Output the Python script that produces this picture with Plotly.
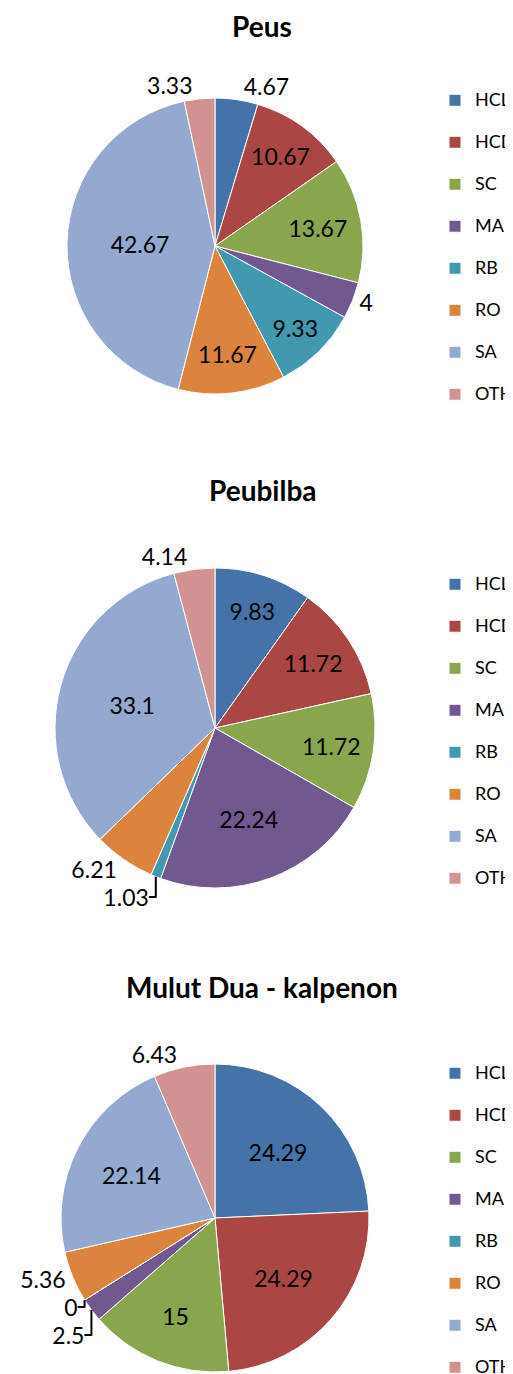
import plotly.graph_objects as go

# slice categories, same order in all three charts (clockwise from 12 o'clock)
CATEGORIES = ["HCL", "HCD", "SC", "MA", "RB", "RO", "SA", "OTH"]
COLORS = ["#4572A7", "#AA4643", "#89A54E", "#71588F",
          "#4198AF", "#DB843D", "#93A9CF", "#D19392"]

TITLES = ["Peus", "Peubilba", "Mulut Dua - kalpenon"]

PEUS = [4.67, 10.67, 13.67, 4, 9.33, 11.67, 42.67, 3.33]
PEUBILBA = [9.83, 11.72, 11.72, 22.24, 1.03, 6.21, 33.1, 4.14]
MULUT_DUA = [24.29, 24.29, 15, 2.5, 0, 5.36, 22.14, 6.43]

# small slices get their labels outside
POS_PEUS = ["outside", "inside", "inside", "outside", "inside", "inside", "inside", "outside"]
POS_PEUBILBA = ["inside", "inside", "inside", "inside", "outside", "outside", "inside", "outside"]
POS_MULUT = ["inside", "inside", "inside", "outside", "outside", "outside", "inside", "outside"]

# the page body keeps its default 8px margin, so the figure is drawn 8px
# smaller and all positions below are given in window pixels
PAGE_W, PAGE_H, OFFSET = 513, 1374, 8
W, H = PAGE_W - OFFSET, PAGE_H - OFFSET
FONT = "Lato, 'Open Sans', sans-serif"


def px_x(x):
    return (x - OFFSET) / W


def px_y(y):
    return 1 - (y - OFFSET) / H


# (center x, center y, radius) in window pixels
geometry = [(215, 246, 148), (215, 728, 160), (215, 1218, 154)]
series = [PEUS, PEUBILBA, MULUT_DUA]
positions = [POS_PEUS, POS_PEUBILBA, POS_MULUT]
legend_names = ["legend", "legend2", "legend3"]
legend_tops = [84, 568, 1057]
title_ys = [26, 490, 987]

fig = go.Figure()

for k, (vals, pos, (cx, cy, r), lg) in enumerate(zip(series, positions, geometry, legend_names)):
    # legend rows are taller than the text: a blank second line pads each entry
    # and reserves width for the larger first line; its length differs per
    # chart so each pie keeps its own legend entries
    pad = "&nbsp;" * (11 + k)
    labels = [f"<span style='font-size:18px'>{c}</span><br>{pad}" for c in CATEGORIES]
    fig.add_trace(go.Pie(
        labels=labels,
        values=vals,
        text=[str(v) for v in vals],
        textinfo="text",
        textposition=pos,
        insidetextorientation="horizontal",
        textfont=dict(family=FONT, size=23, color="black"),
        marker=dict(colors=COLORS, line=dict(color="white", width=1)),
        sort=False,
        direction="clockwise",
        rotation=0,
        hovertext=CATEGORIES,
        hoverinfo="text+value",
        legend=lg,
        domain=dict(
            x=[px_x(cx - r), px_x(cx + r)],
            y=[px_y(cy + r), px_y(cy - r)],
        ),
    ))

legend_style = dict(
    x=px_x(435), xanchor="left", yanchor="top",
    font=dict(family=FONT, size=15, color="black"),
    valign="top",
    bgcolor="rgba(0,0,0,0)",
)

fig.update_layout(
    width=W,
    height=H,
    # legends run to the right edge; don't let them squeeze the pies
    margin=dict(l=0, r=0, t=0, b=0, autoexpand=False),
    paper_bgcolor="white",
    plot_bgcolor="white",
    font=dict(family=FONT, color="black"),
    showlegend=True,
    legend=dict(y=px_y(legend_tops[0]), **legend_style),
    legend2=dict(y=px_y(legend_tops[1]), **legend_style),
    legend3=dict(y=px_y(legend_tops[2]), **legend_style),
    annotations=[
        dict(text=f"<b>{t}</b>", x=px_x(262), y=px_y(ty), xref="paper", yref="paper",
             xanchor="center", yanchor="middle", showarrow=False,
             font=dict(family=FONT, size=28, color="black"))
        for t, ty in zip(TITLES, title_ys)
    ],
)

fig.write_html("out.html")
